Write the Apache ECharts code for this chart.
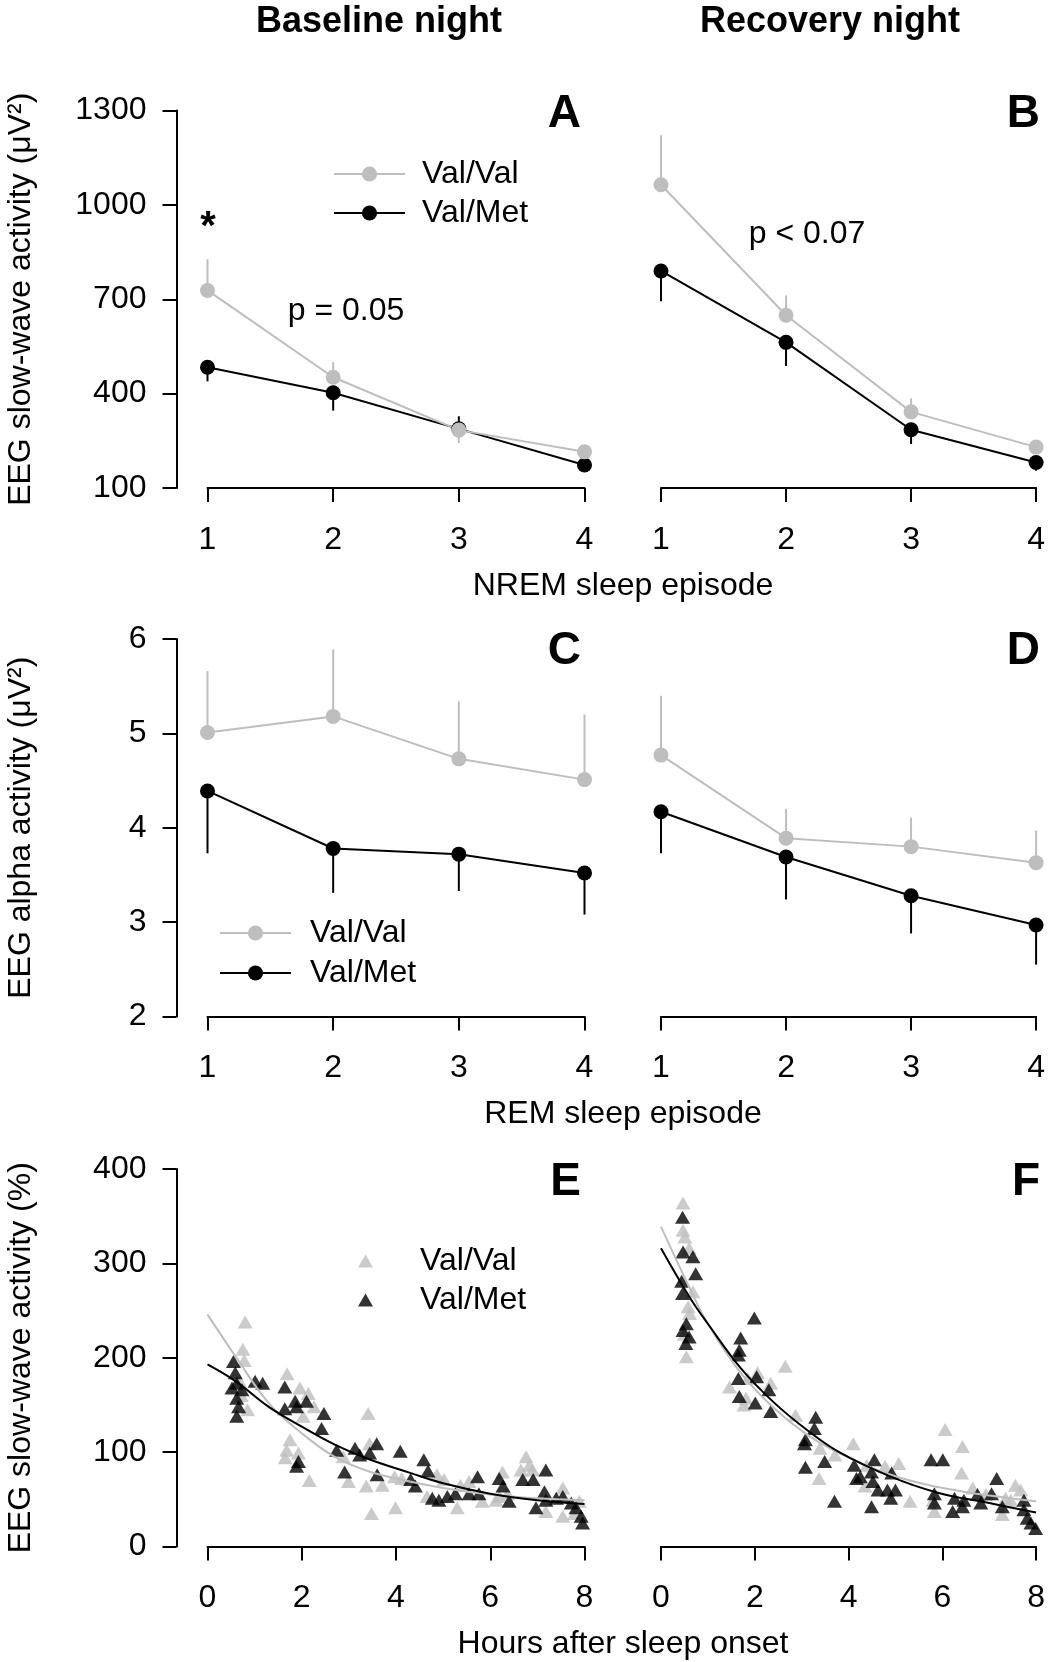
<!DOCTYPE html>
<html>
<head>
<meta charset="utf-8">
<script src="https://cdn.jsdelivr.net/npm/echarts@6/dist/echarts.min.js"></script>
<style>
  html, body { margin: 0; padding: 0; background: #fff; }
  #chart { width: 1048px; height: 1662px; }
</style>
</head>
<body>
<div id="chart"></div>
<script>
const FONT = 'Liberation Sans'
const GRAY = '#bebebe'
const BLACK = '#000000'

// sleep episodes (x of panels A-D)
const episodes = [1, 2, 3, 4]

// A: baseline night, NREM slow-wave activity (uV^2); *Bar = tip of the error bar
const swaBaseValVal = [728, 452, 284, 215]
const swaBaseValValBar = [827, 500, 243, null]
const swaBaseValMet = [484, 403, 288, 173]
const swaBaseValMetBar = [439, 346, 328, null]

// B: recovery night
const swaRecValVal = [1064, 649, 342, 230]
const swaRecValValBar = [1221, 712, 385, null]
const swaRecValMet = [790, 563, 285, 181]
const swaRecValMetBar = [694, 488, 240, 155]

// C: baseline night, REM alpha activity (uV^2)
const alphaBaseValVal = [5.01, 5.18, 4.73, 4.51]
const alphaBaseValValBar = [5.66, 5.89, 5.34, 5.20]
const alphaBaseValMet = [4.39, 3.78, 3.72, 3.52]
const alphaBaseValMetBar = [3.73, 3.31, 3.33, 3.08]

// D: recovery night
const alphaRecValVal = [4.77, 3.89, 3.80, 3.63]
const alphaRecValValBar = [5.40, 4.20, 4.11, 3.97]
const alphaRecValMet = [4.17, 3.69, 3.28, 2.97]
const alphaRecValMetBar = [3.73, 3.24, 2.88, 2.55]

// E: baseline night, SWA (%) per NREM interval [hours after sleep onset, %]
const swaTimeBaseValVal = [
  [0.80, 238], [0.75, 209], [0.78, 197], [0.85, 145], [0.68, 175], [0.72, 160],
  [1.69, 183], [1.96, 168], [2.14, 162], [2.26, 148], [2.03, 138], [1.75, 113],
  [1.68, 102], [1.65, 94], [1.93, 99], [2.16, 70], [3.41, 141], [2.88, 95],
  [2.99, 69], [3.37, 64], [3.48, 35], [3.71, 65], [3.99, 41], [3.97, 74],
  [4.12, 72], [3.44, 109], [4.87, 76], [5.02, 71], [4.66, 53], [5.30, 41],
  [5.37, 65], [5.55, 69], [5.83, 48], [6.12, 49], [6.26, 79], [6.76, 95],
  [6.83, 86], [6.90, 81], [6.65, 81], [6.37, 56], [6.19, 53], [7.18, 37],
  [7.54, 62], [7.54, 32], [7.89, 48], [7.79, 35]
]
const swaTimeBaseValMet = [
  [0.55, 196], [0.59, 184], [0.52, 168], [0.62, 173], [0.73, 166], [0.62, 157],
  [0.66, 148], [0.62, 138], [1.01, 175], [1.17, 173], [1.64, 169], [1.64, 146],
  [1.86, 154], [1.89, 148], [2.10, 154], [2.47, 141], [2.42, 125], [1.93, 90],
  [1.89, 85], [2.74, 102], [2.91, 79], [3.13, 104], [3.23, 97], [3.44, 99],
  [3.59, 109], [3.60, 76], [4.09, 101], [4.59, 92], [4.68, 80], [4.31, 71],
  [4.41, 64], [4.77, 51], [4.91, 49], [5.09, 53], [5.26, 56], [5.55, 56],
  [5.76, 56], [5.73, 74], [6.19, 72], [6.27, 64], [6.40, 48], [6.69, 71],
  [6.91, 71], [7.18, 81], [6.97, 41], [7.18, 49], [7.40, 51], [7.54, 53],
  [7.72, 46], [7.82, 41], [7.93, 32], [7.96, 25], [7.15, 58]
]

// F: recovery night
const swaTimeRecValVal = [
  [0.47, 364], [0.47, 335], [0.51, 328], [0.60, 316], [0.68, 270], [0.58, 254],
  [0.61, 247], [0.54, 201], [0.50, 225], [2.65, 191], [1.46, 169], [1.85, 178],
  [1.77, 150], [2.06, 184], [2.34, 173], [2.87, 139], [3.39, 104], [3.71, 97],
  [3.37, 72], [4.10, 109], [1.81, 157], [4.39, 86], [4.35, 64], [4.78, 85],
  [5.07, 88], [5.31, 48], [6.06, 124], [6.43, 106], [6.41, 78], [5.80, 49],
  [5.83, 37], [6.65, 62], [6.93, 55], [7.28, 34], [7.35, 51], [7.56, 65],
  [7.67, 60], [7.46, 49]
]
const swaTimeRecValMet = [
  [0.46, 349], [0.47, 312], [0.68, 307], [0.74, 289], [0.44, 281], [0.46, 268],
  [1.99, 242], [0.54, 236], [0.47, 229], [0.60, 222], [0.53, 215], [1.70, 221],
  [1.67, 208], [1.65, 203], [1.65, 178], [2.04, 180], [2.30, 166], [1.67, 159],
  [2.01, 152], [2.34, 143], [3.30, 137], [3.27, 125], [3.08, 113], [3.06, 109],
  [3.49, 90], [3.08, 84], [3.70, 48], [4.12, 86], [4.17, 72], [4.55, 92],
  [4.25, 74], [4.49, 79], [4.52, 69], [4.63, 60], [4.83, 60], [4.92, 78],
  [5.00, 60], [4.90, 51], [4.49, 42], [5.76, 92], [6.01, 92], [5.83, 56],
  [5.83, 46], [6.22, 37], [6.26, 51], [6.46, 49], [6.43, 42], [6.75, 55],
  [6.82, 46], [7.05, 56], [7.16, 72], [7.28, 42], [7.74, 49], [7.74, 39],
  [7.81, 30], [7.89, 25], [7.99, 19]
]

// fitted decay curves
const fitBaseValVal = [[0, 246], [0.6, 201], [1.3, 152], [2.0, 120], [2.7, 95], [3.4, 80], [4.1, 71], [5, 62], [6, 55], [7, 51], [8, 49]]
const fitBaseValMet = [[0, 193], [0.6, 175], [1.3, 148], [2.0, 127], [2.7, 108], [3.4, 93], [4.3, 78], [5, 67], [6, 56], [7, 49], [8, 45]]
const fitRecValVal = [[0, 339], [0.6, 275], [1.0, 236], [1.7, 184], [2.4, 147], [3.1, 119], [3.8, 99], [4.9, 76], [5.9, 63], [7, 54], [8, 48]]
const fitRecValMet = [[0, 316], [0.6, 265], [1.0, 236], [1.7, 189], [2.4, 153], [3.1, 124], [3.8, 100], [4.9, 74], [5.9, 57], [7, 46], [8, 36]]

// axis ticks
const swaTicks = { min: 100, max: 1300, interval: 300 }
const alphaTicks = { min: 2, max: 6, interval: 1 }
const pctTicks = { min: 0, max: 400, interval: 100 }
const episodeTicks = { min: 1, max: 4, interval: 1 }
const hourTicks = { min: 0, max: 8, interval: 2 }

const chart = echarts.init(document.getElementById('chart'))

const colLeft = [207.5, 661]
const colWidth = [377, 377.5]
const rowTop = [110.5, 639, 1169]
const rowHeight = 377.5

// panels in order A B C D E F
const grids = []
for (let r = 0; r < 3; r++) {
  for (let c = 0; c < 2; c++) {
    grids.push({ left: colLeft[c], top: rowTop[r], width: colWidth[c], height: rowHeight })
  }
}

const labelStyle = { color: BLACK, fontSize: 32, fontFamily: FONT }

const makeXAxis = (idx, ticks) => ({
  type: 'value',
  gridIndex: idx,
  min: ticks.min,
  max: ticks.max,
  interval: ticks.interval,
  axisLine: { onZero: false, lineStyle: { color: BLACK, width: 2 } },
  axisTick: { length: 14, lineStyle: { color: BLACK, width: 2 } },
  axisLabel: { ...labelStyle, margin: 36, showMinLabel: true, showMaxLabel: true },
  splitLine: { show: false }
})

const makeYAxis = (idx, ticks, name, show) => ({
  type: 'value',
  gridIndex: idx,
  show: show,
  min: ticks.min,
  max: ticks.max,
  interval: ticks.interval,
  offset: 31,
  name: name,
  nameLocation: 'middle',
  nameGap: 139,
  nameTextStyle: { ...labelStyle },
  axisLine: { show: true, onZero: false, lineStyle: { color: BLACK, width: 2 } },
  axisTick: { show: true, length: 14, lineStyle: { color: BLACK, width: 2 } },
  axisLabel: { ...labelStyle, margin: 30, showMinLabel: true, showMaxLabel: true, formatter: v => String(v) },
  splitLine: { show: false }
})

const xAxes = [
  makeXAxis(0, episodeTicks), makeXAxis(1, episodeTicks),
  makeXAxis(2, episodeTicks), makeXAxis(3, episodeTicks),
  makeXAxis(4, hourTicks), makeXAxis(5, hourTicks)
]
const yAxes = [
  makeYAxis(0, swaTicks, 'EEG slow-wave activity (μV²)', true),
  makeYAxis(1, swaTicks, '', false),
  makeYAxis(2, alphaTicks, 'EEG alpha activity (μV²)', true),
  makeYAxis(3, alphaTicks, '', false),
  makeYAxis(4, pctTicks, 'EEG slow-wave activity (%)', true),
  makeYAxis(5, pctTicks, '', false)
]

// mean values with line and dots
const meanSeries = (name, color, idx, values) => ({
  name: name,
  type: 'line',
  xAxisIndex: idx,
  yAxisIndex: idx,
  data: episodes.map((x, i) => [x, values[i]]),
  symbol: 'circle',
  symbolSize: 15,
  clip: false,
  itemStyle: { color: color },
  lineStyle: { color: color, width: 2 },
  emphasis: { disabled: true }
})

// one-sided SEM bar from the mean to its tip
const barSeries = (color, idx, values, ends) => ({
  type: 'custom',
  xAxisIndex: idx,
  yAxisIndex: idx,
  data: episodes.map((x, i) => [x, values[i], ends[i]]).filter(d => d[2] != null),
  encode: { x: 0, y: [1, 2] },
  renderItem: (params, api) => {
    const p0 = api.coord([api.value(0), api.value(1)])
    const p1 = api.coord([api.value(0), api.value(2)])
    return {
      type: 'line',
      shape: { x1: p0[0], y1: p0[1], x2: p1[0], y2: p1[1] },
      style: { stroke: color, lineWidth: 2 }
    }
  }
})

const pointSeries = (name, color, idx, data) => ({
  name: name,
  type: 'scatter',
  xAxisIndex: idx,
  yAxisIndex: idx,
  data: data,
  symbol: 'triangle',
  symbolSize: [15, 13],
  itemStyle: { color: color },
  emphasis: { disabled: true }
})

const fitSeries = (color, idx, data) => ({
  type: 'line',
  xAxisIndex: idx,
  yAxisIndex: idx,
  data: data,
  smooth: 0.4,
  showSymbol: false,
  symbol: 'none',
  lineStyle: { color: color, width: 2 },
  emphasis: { disabled: true }
})

const series = [
  // A
  barSeries(BLACK, 0, swaBaseValMet, swaBaseValMetBar),
  meanSeries('Val/Met', BLACK, 0, swaBaseValMet),
  barSeries(GRAY, 0, swaBaseValVal, swaBaseValValBar),
  meanSeries('Val/Val', GRAY, 0, swaBaseValVal),
  // B
  barSeries(BLACK, 1, swaRecValMet, swaRecValMetBar),
  meanSeries('Val/Met', BLACK, 1, swaRecValMet),
  barSeries(GRAY, 1, swaRecValVal, swaRecValValBar),
  meanSeries('Val/Val', GRAY, 1, swaRecValVal),
  // C
  barSeries(BLACK, 2, alphaBaseValMet, alphaBaseValMetBar),
  meanSeries('Val/Met', BLACK, 2, alphaBaseValMet),
  barSeries(GRAY, 2, alphaBaseValVal, alphaBaseValValBar),
  meanSeries('Val/Val', GRAY, 2, alphaBaseValVal),
  // D
  barSeries(BLACK, 3, alphaRecValMet, alphaRecValMetBar),
  meanSeries('Val/Met', BLACK, 3, alphaRecValMet),
  barSeries(GRAY, 3, alphaRecValVal, alphaRecValValBar),
  meanSeries('Val/Val', GRAY, 3, alphaRecValVal),
  // E (trailing space keeps the triangle legend apart from the line legend)
  pointSeries('Val/Val ', GRAY, 4, swaTimeBaseValVal),
  pointSeries('Val/Met ', BLACK, 4, swaTimeBaseValMet),
  fitSeries(GRAY, 4, fitBaseValVal),
  fitSeries(BLACK, 4, fitBaseValMet),
  // F
  pointSeries('Val/Val ', GRAY, 5, swaTimeRecValVal),
  pointSeries('Val/Met ', BLACK, 5, swaTimeRecValMet),
  fitSeries(GRAY, 5, fitRecValVal),
  fitSeries(BLACK, 5, fitRecValMet)
]

const legends = [
  {
    data: ['Val/Val', 'Val/Met'], orient: 'vertical', left: 333, top: 158,
    itemWidth: 71, itemHeight: 19, itemGap: 7, padding: 0, selectedMode: false,
    textStyle: { ...labelStyle, padding: [0, 0, 0, 12] }
  },
  {
    data: ['Val/Val', 'Val/Met'], orient: 'vertical', left: 219, top: 917,
    itemWidth: 71, itemHeight: 19, itemGap: 8, padding: 0, selectedMode: false,
    textStyle: { ...labelStyle, padding: [0, 0, 0, 14] }
  },
  {
    data: [{ name: 'Val/Val ', icon: 'triangle' }, { name: 'Val/Met ', icon: 'triangle' }],
    orient: 'vertical', left: 358, top: 1245,
    itemWidth: 15, itemHeight: 13, itemGap: 7, padding: 0, selectedMode: false,
    symbolKeepAspect: false,
    textStyle: { ...labelStyle, padding: [0, 0, 0, 42] }
  }
]

const text = (str, x, y, size, bold, align) => ({
  type: 'text',
  x: x,
  y: y,
  silent: true,
  style: {
    text: str,
    fill: BLACK,
    font: (bold ? 'bold ' : '') + size + 'px "' + FONT + '"',
    align: align || 'center',
    verticalAlign: 'middle'
  }
})

const graphics = [
  text('Baseline night', 379, 22, 36, true),
  text('Recovery night', 830, 22, 36, true),
  text('A', 581, 114, 46, true, 'right'),
  text('B', 1040, 114, 46, true, 'right'),
  text('C', 581, 651, 46, true, 'right'),
  text('D', 1040, 651, 46, true, 'right'),
  text('E', 581, 1182, 46, true, 'right'),
  text('F', 1040, 1182, 46, true, 'right'),
  text('*', 208, 228, 40, true),
  text('p = 0.05', 346, 311, 32, false),
  text('p < 0.07', 807, 234, 32, false),
  text('NREM sleep episode', 623, 586, 32, false),
  text('REM sleep episode', 623, 1114, 32, false),
  text('Hours after sleep onset', 623, 1644, 32, false)
]

chart.setOption({
  animation: false,
  backgroundColor: '#ffffff',
  textStyle: { fontFamily: FONT },
  grid: grids,
  xAxis: xAxes,
  yAxis: yAxes,
  legend: legends,
  series: series,
  graphic: graphics
})
</script>
</body>
</html>
